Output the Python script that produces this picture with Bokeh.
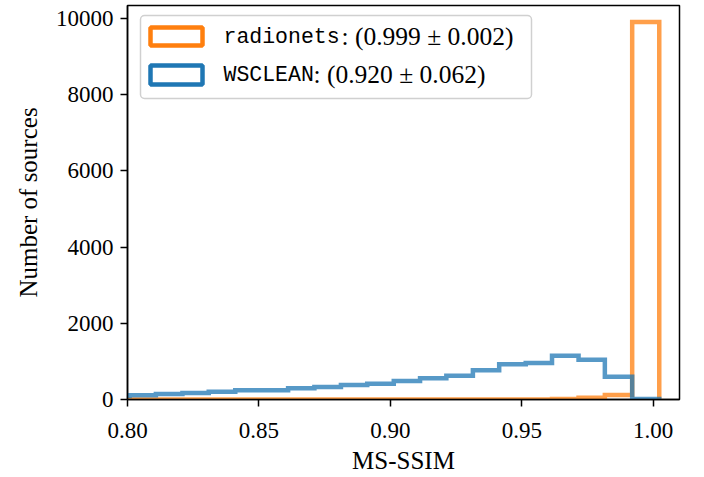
import numpy as np
from bokeh.plotting import figure
from bokeh.models import BoxAnnotation, Label, Range1d, FixedTicker, NumeralTickFormatter
from bokeh.embed import file_html
from bokeh.resources import INLINE

# ---- data ----
bin_edges = [0.7907, 0.8008, 0.8108, 0.8209, 0.8309, 0.8410, 0.8510, 0.8611,
             0.8711, 0.8812, 0.8912, 0.9013, 0.9113, 0.9213, 0.9314, 0.9414,
             0.9515, 0.9615, 0.9716, 0.9816, 0.9920, 1.0023]
radionets_counts = [0, 0, 0, 0, 0, 0, 0, 0, 0, 0, 0, 0, 0, 0, 0, 0,
                    0, 15, 45, 115, 9910]
wsclean_counts = [95, 110, 145, 170, 205, 240, 245, 295, 330, 380, 415,
                  485, 555, 625, 765, 925, 960, 1145, 1040, 600, 15]
x_ticks = [0.80, 0.85, 0.90, 0.95, 1.00]
y_ticks = [0, 2000, 4000, 6000, 8000, 10000]
legend_names = ["radionets", "WSCLEAN"]
legend_stats = [": (0.999 \u00b1 0.002)", ": (0.920 \u00b1 0.062)"]

ORANGE = "#ff7f0e"
BLUE = "#1f77b4"
SERIF = "Liberation Serif"
MONO = "Liberation Mono"


def step_path(edges, counts):
    e = np.asarray(edges, dtype=float)
    c = np.asarray(counts, dtype=float)
    xs = np.repeat(e, 2)
    ys = np.concatenate([[0.0], np.repeat(c, 2), [0.0]])
    return xs, ys


p = figure(width=704, height=477, output_backend="svg", toolbar_location=None,
           x_range=Range1d(0.8, 1.01), y_range=Range1d(0, 10340),
           min_border_left=127, min_border_right=25, min_border_top=5,
           min_border_bottom=78)

p.xgrid.visible = False
p.ygrid.visible = False
p.outline_line_color = "black"
p.outline_line_width = 1.5
p.outline_line_alpha = 1.0
p.background_fill_color = "white"
p.border_fill_color = "white"

xs, ys = step_path(bin_edges, radionets_counts)
p.line(xs, ys, line_color=ORANGE, line_alpha=0.75, line_width=4.5, line_join="miter")
xs, ys = step_path(bin_edges, wsclean_counts)
p.line(xs, ys, line_color=BLUE, line_alpha=0.75, line_width=4.5, line_join="miter")

for ax in (p.xaxis[0], p.yaxis[0]):
    ax.axis_line_width = 1.5
    ax.axis_line_color = "black"
    ax.major_tick_line_width = 1.5
    ax.major_tick_line_color = "black"
    ax.major_tick_out = 7
    ax.major_tick_in = 0
    ax.minor_tick_line_color = None
    ax.major_label_text_font = SERIF
    ax.major_label_text_font_size = "23px"
    ax.major_label_text_color = "black"
    ax.axis_label_text_font = SERIF
    ax.axis_label_text_font_size = "25px"
    ax.axis_label_text_font_style = "normal"
    ax.axis_label_text_color = "black"

p.xaxis.ticker = FixedTicker(ticks=x_ticks)
p.xaxis.formatter = NumeralTickFormatter(format="0.00")
p.xaxis.major_label_standoff = 16
p.xaxis.axis_label = "MS-SSIM"
p.xaxis.axis_label_standoff = 6

p.yaxis.ticker = FixedTicker(ticks=y_ticks)
p.yaxis.formatter = NumeralTickFormatter(format="0")
p.yaxis.major_label_standoff = 7
p.yaxis.axis_label = "Number of sources"
p.yaxis.axis_label_standoff = 11

# ---- legend drawn by hand (mixed fonts) ----
p.add_layout(BoxAnnotation(left=13, right=404, top=384, bottom=301,
                           left_units="screen", right_units="screen",
                           top_units="screen", bottom_units="screen",
                           fill_color="white", fill_alpha=0.8,
                           line_color="#d0d0d0", line_alpha=1.0,
                           line_width=1.5, border_radius=4))
patch_rows = [(372, 354), (334, 315)]
text_rows = [363, 325]
stat_x = [214, 186]
for (top, bottom), ty, sx, name, stat, col in zip(patch_rows, text_rows, stat_x,
                                                   legend_names, legend_stats,
                                                   [ORANGE, BLUE]):
    p.add_layout(BoxAnnotation(left=23, right=75, top=top, bottom=bottom,
                               left_units="screen", right_units="screen",
                               top_units="screen", bottom_units="screen",
                               fill_color="white", fill_alpha=1.0,
                               line_color=col, line_alpha=1.0, line_width=4.5))
    p.add_layout(Label(x=96, y=ty, x_units="screen", y_units="screen", text=name,
                       text_font=MONO, text_font_size="21.5px",
                       text_baseline="middle", text_color="black"))
    p.add_layout(Label(x=sx, y=ty, x_units="screen", y_units="screen", text=stat,
                       text_font=SERIF, text_font_size="25.5px",
                       text_baseline="middle", text_color="black"))

open("out.html", "w").write(file_html(p, INLINE))
